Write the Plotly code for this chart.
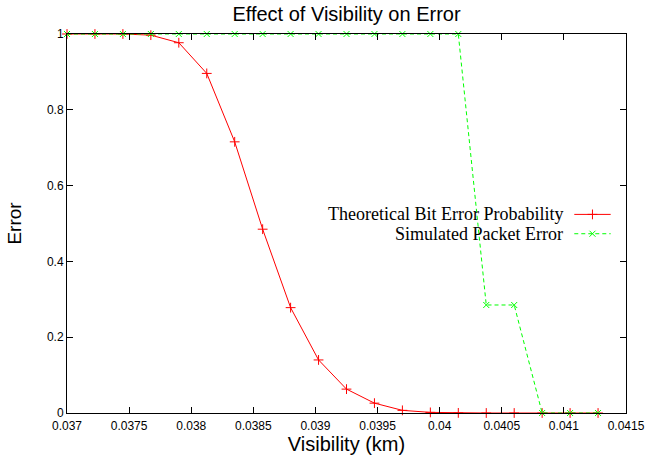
import plotly.graph_objects as go

visibility = [0.037 + i * 0.000225 for i in range(20)]
theoretical_ber = [1.0, 1.0, 1.0, 0.997, 0.977, 0.896, 0.7155, 0.485, 0.278, 0.140,
                   0.063, 0.026, 0.007, 0.0016, 0.0003, 0.0, 0.0, 0.0, 0.0, 0.0]
simulated_per = [1.0] * 15 + [0.285, 0.285, 0.0, 0.0, 0.0]

x_ticks = [0.037, 0.0375, 0.038, 0.0385, 0.039, 0.0395, 0.04, 0.0405, 0.041, 0.0415]
x_tick_labels = ["0.037", "0.0375", "0.038", "0.0385", "0.039", "0.0395", "0.04", "0.0405", "0.041", "0.0415"]
y_ticks = [0, 0.2, 0.4, 0.6, 0.8, 1]
y_tick_labels = ["0", "0.2", "0.4", "0.6", "0.8", "1"]

series_names = ["Theoretical Bit Error Probability", "Simulated Packet Error"]
RED = "#ff0000"
GREEN = "#00ff00"
SANS = "Liberation Sans, Arial, sans-serif"
SERIF = "Liberation Serif, Times New Roman, serif"

fig = go.Figure()
fig.add_trace(go.Scatter(
    x=visibility, y=theoretical_ber, mode="lines+markers", name=series_names[0],
    line=dict(color=RED, width=1),
    marker=dict(symbol="cross-thin", size=7, line=dict(color=RED, width=1)),
    showlegend=False, cliponaxis=False))
fig.add_trace(go.Scatter(
    x=visibility, y=simulated_per, mode="lines+markers", name=series_names[1],
    line=dict(color=GREEN, width=1, dash="4px,3px"),
    marker=dict(symbol="x-thin", size=6, line=dict(color=GREEN, width=1)),
    showlegend=False, cliponaxis=False))

# legend samples (gnuplot style: text left, sample right), on hidden overlay axes
leg_y = [0.524, 0.473]
for name, col, sym, dash, ly in [(series_names[0], RED, "cross-thin", "solid", leg_y[0]),
                                 (series_names[1], GREEN, "x-thin", "4px,3px", leg_y[1])]:
    fig.add_trace(go.Scatter(
        x=[0.9075, 0.9726], y=[ly, ly], xaxis="x2", yaxis="y2", mode="lines",
        line=dict(color=col, width=1, dash=dash), showlegend=False, hoverinfo="skip"))
    fig.add_trace(go.Scatter(
        x=[0.940], y=[ly], xaxis="x2", yaxis="y2", mode="markers",
        marker=dict(symbol=sym, size=7 if sym == "cross-thin" else 6, line=dict(color=col, width=1)),
        showlegend=False, hoverinfo="skip"))
    fig.add_annotation(x=0.891, y=ly, xref="x2", yref="y2", text=name, showarrow=False,
                       xanchor="right", yanchor="middle",
                       font=dict(family=SERIF, size=18, color="black"))

axis_common = dict(showline=True, linecolor="black", linewidth=1, mirror="ticks",
                   ticks="inside", ticklen=6, tickcolor="black", showgrid=False, zeroline=False,
                   automargin=False,
                   tickfont=dict(family=SANS, size=12, color="black"))

fig.update_layout(
    width=647, height=458,
    margin=dict(l=67, r=21, t=34, b=45),
    paper_bgcolor="white", plot_bgcolor="white",
    title=dict(text="Effect of Visibility on Error", x=0.5, xref="paper",
               y=1 - 14 / 458, yref="container", xanchor="center", yanchor="middle",
               font=dict(family=SANS, size=20, color="black")),
    xaxis=dict(range=[0.037, 0.0415], tickvals=x_ticks, ticktext=x_tick_labels,
               ticklabelstandoff=2,
               title=dict(text="Visibility (km)", standoff=0,
                          font=dict(family=SANS, size=20, color="black")),
               **axis_common),
    yaxis=dict(range=[0, 1], tickvals=y_ticks, ticktext=y_tick_labels,
               title=dict(text="Error", standoff=20,
                          font=dict(family=SANS, size=19, color="black")),
               **axis_common),
    xaxis2=dict(range=[0, 1], overlaying="x", visible=False, fixedrange=True),
    yaxis2=dict(range=[0, 1], overlaying="y", visible=False, fixedrange=True),
    showlegend=False,
)

fig.write_html("out.html", config={"displayModeBar": False},
               post_script="document.body.style.margin='0px';")
